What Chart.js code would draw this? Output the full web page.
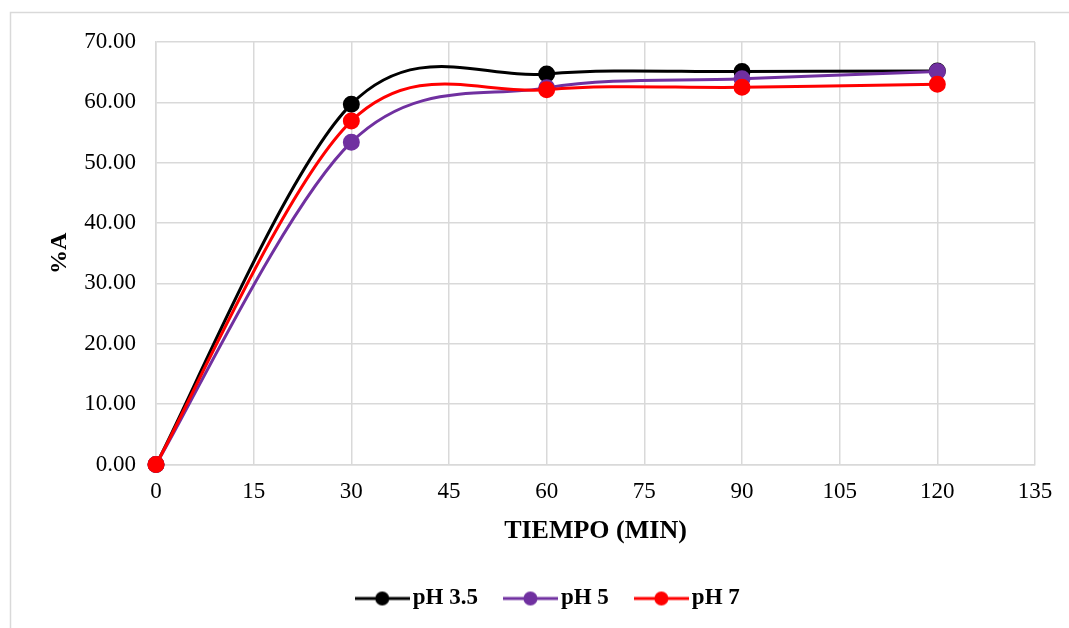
<!DOCTYPE html>
<html>
<head>
<meta charset="utf-8">
<script src="https://cdn.jsdelivr.net/npm/chart.js@4"></script>
<style>
  html, body { margin: 0; padding: 0; background: #fff; }
  #wrap { width: 1069px; height: 628px; position: relative; }
</style>
</head>
<body>
<div id="wrap"><canvas id="chart" width="1069" height="628"></canvas></div>
<script>
// time in minutes
const tiempo = [0, 30, 60, 90, 120];
// %A per pH
const ph35 = [0, 59.7, 64.7, 65.1, 65.2];
const ph5 = [0, 53.4, 62.4, 63.9, 65.1];
const ph7 = [0, 56.9, 62.1, 62.5, 63.0];

const seriesNames = ['pH 3.5', 'pH 5', 'pH 7'];
const seriesColors = ['#000000', '#7030A0', '#FF0000'];

const fontFamily = '"Liberation Serif", "Times New Roman", serif';

function toPoints(values) {
    return tiempo.map(function(t, i) { return { x: t, y: values[i] }; });
}

// little line-with-dot marker for the legend
function legendMarker(color) {
    var c = document.createElement('canvas');
    c.width = 55;
    c.height = 16;
    var ctx = c.getContext('2d');
    ctx.strokeStyle = color;
    ctx.lineWidth = 3;
    ctx.beginPath();
    ctx.moveTo(0, 8);
    ctx.lineTo(55, 8);
    ctx.stroke();
    ctx.fillStyle = color;
    ctx.beginPath();
    ctx.arc(27.5, 8, 7, 0, Math.PI * 2);
    ctx.fill();
    return c;
}

// light frame around the whole chart
const frame = {
    id: 'frame',
    beforeDraw: function(chart) {
        var ctx = chart.ctx;
        ctx.save();
        ctx.strokeStyle = '#d9d9d9';
        ctx.lineWidth = 1.5;
        ctx.strokeRect(10.5, 12.5, 1100, 700);
        ctx.restore();
    }
};

// spreadsheet-style smoothing: uniform Catmull-Rom control points (1/6 of neighbour span)
const smoothCurve = {
    id: 'smoothCurve',
    beforeDatasetDraw: function(chart, args) {
        var meta = args.meta;
        var pts = meta.data;
        meta.dataset.updateControlPoints(chart.chartArea);
        for (var i = 0; i < pts.length; i++) {
            var prev = pts[Math.max(i - 1, 0)];
            var next = pts[Math.min(i + 1, pts.length - 1)];
            var dx = (next.x - prev.x) / 6;
            var dy = (next.y - prev.y) / 6;
            pts[i].cp1x = pts[i].x - dx;
            pts[i].cp1y = pts[i].y - dy;
            pts[i].cp2x = pts[i].x + dx;
            pts[i].cp2y = pts[i].y + dy;
        }
    }
};

// nudge the legend row to sit under the middle of the plot
const legendShift = {
    id: 'legendShift',
    afterLayout: function(chart) {
        chart.legend.left += 34;
        chart.legend.right += 34;
    }
};

function makeDataset(i, values) {
    return {
        label: seriesNames[i],
        data: toPoints(values),
        borderColor: seriesColors[i],
        backgroundColor: seriesColors[i],
        borderWidth: 3,
        pointRadius: 7,
        pointHoverRadius: 7,
        tension: 0.4,
        fill: false,
        clip: false,
        // later series are painted on top
        order: seriesNames.length - 1 - i
    };
}

new Chart(document.getElementById('chart'), {
    type: 'line',
    data: {
        datasets: [
            makeDataset(0, ph35),
            makeDataset(1, ph5),
            makeDataset(2, ph7)
        ]
    },
    plugins: [frame, smoothCurve, legendShift],
    options: {
        responsive: false,
        animation: false,
        layout: { padding: { top: 42, right: 34, bottom: 8, left: 0 } },
        scales: {
            x: {
                type: 'linear',
                min: 0,
                max: 135,
                ticks: {
                    stepSize: 15,
                    padding: 14,
                    color: '#000',
                    font: { family: fontFamily, size: 23 },
                    maxRotation: 0
                },
                grid: { color: '#d9d9d9', lineWidth: 1.5, drawTicks: false },
                border: { color: '#d9d9d9', width: 1.5 },
                title: {
                    display: true,
                    text: 'TIEMPO (MIN)',
                    color: '#000',
                    font: { family: fontFamily, size: 26, weight: 'bold' },
                    padding: { top: 0, bottom: 7 }
                },
                afterFit: function(scale) { scale.height = 89; }
            },
            y: {
                min: 0,
                max: 70,
                ticks: {
                    stepSize: 10,
                    padding: 20,
                    color: '#000',
                    font: { family: fontFamily, size: 23 },
                    callback: function(v) { return v.toFixed(2); }
                },
                grid: { color: '#d9d9d9', lineWidth: 1.5, drawTicks: false },
                border: { color: '#d9d9d9', width: 1.5 },
                title: {
                    display: true,
                    text: '%A',
                    color: '#000',
                    font: { family: fontFamily, size: 24, weight: 'bold' },
                    padding: { top: 45, bottom: 0 }
                },
                afterFit: function(scale) { scale.width = 156; }
            }
        },
        plugins: {
            legend: {
                position: 'bottom',
                labels: {
                    usePointStyle: true,
                    pointStyleWidth: 38,
                    padding: 33.5,
                    color: '#000',
                    font: { family: fontFamily, size: 23, weight: 'bold' },
                    generateLabels: function(chart) {
                        return chart.data.datasets.map(function(ds, i) {
                            return {
                                text: ds.label,
                                fillStyle: ds.borderColor,
                                strokeStyle: ds.borderColor,
                                fontColor: '#000',
                                pointStyle: legendMarker(ds.borderColor),
                                lineWidth: 0,
                                datasetIndex: i
                            };
                        });
                    }
                }
            },
            tooltip: { enabled: false }
        }
    }
});
</script>
</body>
</html>
